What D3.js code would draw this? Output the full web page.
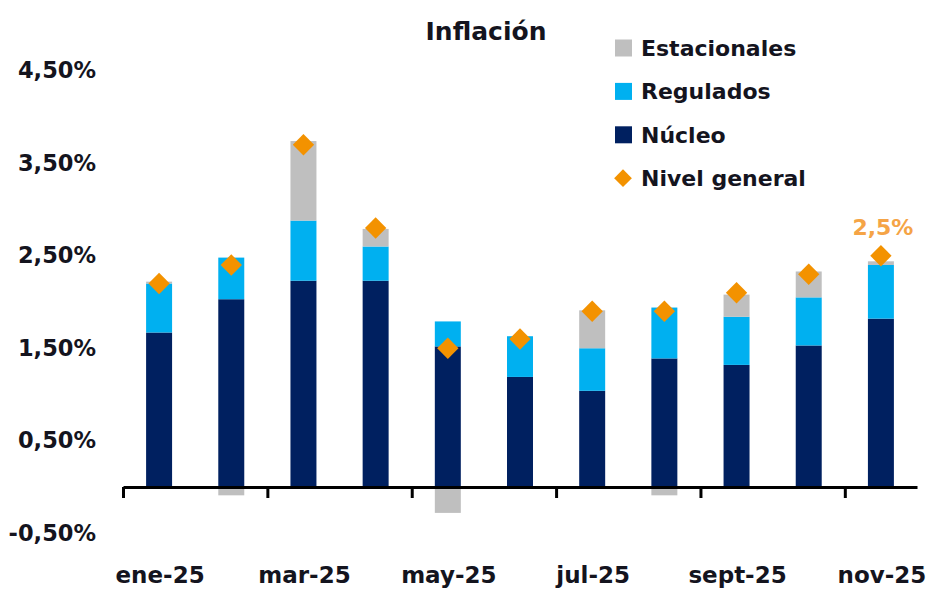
<!DOCTYPE html>
<html>
<head>
<meta charset="utf-8">
<script src="https://cdn.jsdelivr.net/npm/d3@7/dist/d3.min.js"></script>
<style>
html,body{margin:0;padding:0;background:#fff;}
svg text{font-family:"DejaVu Sans",sans-serif;font-weight:bold;fill:#14141e;}
</style>
</head>
<body>
<svg id="chart" width="930" height="589"></svg>
<script>
const months = ["ene-25","feb-25","mar-25","abr-25","may-25","jun-25","jul-25","ago-25","sept-25","oct-25","nov-25"];
const nucleo       = [1.67, 2.03, 2.23, 2.23, 1.52, 1.19, 1.04, 1.39, 1.32, 1.53, 1.82];
const regulados    = [0.53, 0.45, 0.65, 0.37, 0.27, 0.44, 0.46, 0.55, 0.52, 0.52, 0.58];
const estacionales = [0.02,-0.09, 0.86, 0.19,-0.28, 0.00, 0.41,-0.09, 0.24, 0.28, 0.04];
const nivelGeneral = [2.2, 2.4, 3.7, 2.8, 1.5, 1.6, 1.9, 1.9, 2.1, 2.3, 2.5];
const yTicks = [4.5, 3.5, 2.5, 1.5, 0.5, -0.5];
const xLabelMonths = ["ene-25","mar-25","may-25","jul-25","sept-25","nov-25"];
const seriesNames = ["Núcleo","Regulados","Estacionales"];
const colors = {"Núcleo":"#002060","Regulados":"#00b0f0","Estacionales":"#bfbfbf","Nivel general":"#f39200"};

const svg = d3.select("#chart");
const x = d3.scaleBand().domain(months).range([123, 917]).paddingInner(0.64).paddingOuter(0.32);
const y = d3.scaleLinear().domain([-0.5, 4.5]).range([533.25, 70.75]);

const table = months.map((m,i)=>({month:m,"Núcleo":nucleo[i],"Regulados":regulados[i],"Estacionales":estacionales[i]}));
const stack = d3.stack().keys(seriesNames).offset(d3.stackOffsetDiverging)(table);

svg.append("g").selectAll("g").data(stack).join("g")
  .attr("fill", d=>colors[d.key])
  .selectAll("rect").data(d=>d).join("rect")
  .attr("x", d=>x(d.data.month))
  .attr("width", x.bandwidth())
  .attr("y", d=>y(Math.max(d[0],d[1])))
  .attr("height", d=>Math.abs(y(d[0])-y(d[1])));

// x axis line with ticks at every other band boundary
const xb = d3.scaleLinear().domain([0, months.length]).range([123, 917]);
const ax = svg.append("g").attr("transform",`translate(0,${y(0)})`)
  .call(d3.axisBottom(xb).tickValues([0,2,4,6,8,10]).tickSize(11).tickSizeOuter(0).tickFormat(""));
ax.select(".domain").attr("stroke","#000").attr("stroke-width",3);
ax.selectAll(".tick line").attr("stroke","#000").attr("stroke-width",3);

// x labels
svg.append("g").selectAll("text").data(xLabelMonths).join("text")
  .attr("x", d=>x(d)+x.bandwidth()/2+1)
  .attr("y", 583)
  .attr("text-anchor","middle")
  .style("font-size","23px")
  .text(d=>d);

// y axis labels
const ay = svg.append("g").attr("transform","translate(100,0)")
  .call(d3.axisLeft(y).tickValues(yTicks).tickSize(0).tickPadding(4)
    .tickFormat(v=>v.toFixed(2).replace(".",",")+"%"));
ay.select(".domain").remove();
ay.selectAll("text").style("font-size","22.5px").style("font-family","DejaVu Sans").style("font-weight","bold").attr("fill","#14141e");

// diamonds
const diamond = d3.symbol().type(d3.symbolDiamond2).size(290);
svg.append("g").selectAll("path").data(nivelGeneral).join("path")
  .attr("d", diamond)
  .attr("fill", colors["Nivel general"])
  .attr("transform",(d,i)=>`translate(${x(months[i])+x.bandwidth()/2},${y(d)})`);

// last label
const last = nivelGeneral.length-1;
svg.append("text")
  .attr("x", x(months[last])+x.bandwidth()/2+2)
  .attr("y", y(nivelGeneral[last])-21)
  .attr("text-anchor","middle")
  .style("font-size","22px")
  .style("fill","#f5a446")
  .text(String(nivelGeneral[last]).replace(".",",")+"%");

// title
svg.append("text").attr("x",486).attr("y",40).attr("text-anchor","middle")
  .style("font-size","25px").text("Inflación");

// legend
const legendItems = ["Estacionales","Regulados","Núcleo","Nivel general"];
const lg = svg.append("g").selectAll("g").data(legendItems).join("g")
  .attr("transform",(d,i)=>`translate(0,${48+i*43.4})`);
lg.filter(d=>d!=="Nivel general").append("rect")
  .attr("x",615).attr("y",-8.5).attr("width",17).attr("height",17)
  .attr("fill",d=>colors[d]);
lg.filter(d=>d==="Nivel general").append("path")
  .attr("d", d3.symbol().type(d3.symbolDiamond2).size(200))
  .attr("transform","translate(623,0)")
  .attr("fill",colors["Nivel general"]);
lg.append("text").attr("x",641).attr("y",8).style("font-size","22px").text(d=>d);
</script>
</body>
</html>
